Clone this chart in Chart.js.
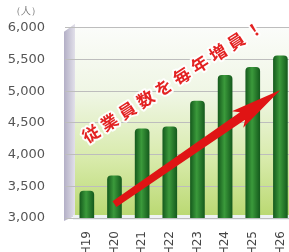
<!DOCTYPE html>
<html>
<head>
<meta charset="utf-8">
<style>
  html, body { margin: 0; padding: 0; background: #fff; overflow: hidden; }
  #wrap { width: 300px; height: 252px; }
</style>
<script src="https://cdn.jsdelivr.net/npm/chart.js@4/dist/chart.umd.min.js"></script>
</head>
<body>
<div id="wrap"><canvas id="staffChart" width="300" height="252"></canvas></div>
<script>
// 従業員数 (人)
const years = ['H19', 'H20', 'H21', 'H22', 'H23', 'H24', 'H25', 'H26'];
const staff = [3430, 3670, 4410, 4445, 4850, 5255, 5380, 5565];
const yMin = 3000;
const yMax = 6000;
const yStep = 500;
const unitLabel = '（人）';
const message = '従業員数を毎年増員！';

const BAR_PCT = 0.53;

// bar fill: horizontal gradient so each bar looks like a cylinder
function cylinderFill(ctx) {
    const chart = ctx.chart;
    const xs = chart.scales.x;
    if (!chart.chartArea || !xs) return '#2e8b2e';
    const cx = xs.getPixelForValue(ctx.dataIndex);
    const w = (xs.getPixelForValue(1) - xs.getPixelForValue(0)) * BAR_PCT;
    const g = chart.ctx.createLinearGradient(cx - w / 2, 0, cx + w / 2, 0);
    g.addColorStop(0, '#14591c');
    g.addColorStop(0.45, '#3b9a3b');
    g.addColorStop(1, '#14591c');
    return g;
}

const backdrop = {
    id: 'backdrop',
    beforeDraw(chart) {
        const { ctx, chartArea: a } = chart;
        ctx.save();
        const bg = ctx.createLinearGradient(0, a.top, 0, a.bottom);
        bg.addColorStop(0, '#fbfcfa');
        bg.addColorStop(0.35, '#eff6e4');
        bg.addColorStop(0.7, '#d7eaa9');
        bg.addColorStop(1, '#b9d870');
        ctx.fillStyle = bg;
        ctx.fillRect(a.left, a.top, a.right - a.left, a.bottom - a.top);

        // left side wall
        const wall = ctx.createLinearGradient(a.left - 9, 0, a.left + 2, 0);
        wall.addColorStop(0, '#b3afc6');
        wall.addColorStop(1, '#e2e0ea');
        ctx.fillStyle = wall;
        ctx.beginPath();
        ctx.moveTo(a.left - 9, a.top + 4);
        ctx.lineTo(a.left + 2, a.top - 4);
        ctx.lineTo(a.left + 2, a.bottom - 2);
        ctx.lineTo(a.left - 9, a.bottom + 3);
        ctx.closePath();
        ctx.fill();

        // floor strip
        ctx.fillStyle = '#eef2f4';
        ctx.fillRect(a.left, a.bottom - 3, a.right - a.left, 5);

        ctx.fillStyle = '#777';
        ctx.font = '10px "DejaVu Sans"';
        ctx.textAlign = 'center';
        ctx.textBaseline = 'middle';
        ctx.fillText(unitLabel, 26, 11);
        ctx.restore();
    }
};

const annotations = {
    id: 'annotations',
    afterDatasetsDraw(chart) {
        const { ctx, scales: { x, y } } = chart;
        const step = x.getPixelForValue(1) - x.getPixelForValue(0);
        const px = i => x.getPixelForValue(0) + i * step;

        // red arrow
        const x0 = px(1.0), y0 = y.getPixelForValue(3220);
        const x1 = px(7.0), y1 = y.getPixelForValue(5020);
        const ang = Math.atan2(y1 - y0, x1 - x0);
        const len = Math.hypot(x1 - x0, y1 - y0);
        ctx.save();
        ctx.translate(x0, y0);
        ctx.rotate(ang);
        ctx.fillStyle = '#e01414';
        ctx.beginPath();
        ctx.moveTo(0, -3.5);
        ctx.lineTo(len - 46, -4.5);
        ctx.lineTo(len - 52, -10);
        ctx.lineTo(len, 0);
        ctx.lineTo(len - 52, 10);
        ctx.lineTo(len - 46, 4.5);
        ctx.lineTo(0, 3.5);
        ctx.closePath();
        ctx.fill();
        ctx.restore();

        // slogan along the diagonal
        const chars = Array.from(message);
        const cx = px(3.1), cy = y.getPixelForValue(5150);
        const tAng = -32.5 * Math.PI / 180;
        const gap = 21.5;
        ctx.save();
        ctx.translate(cx, cy);
        ctx.rotate(tAng);
        ctx.font = 'bold 17px "Noto Sans CJK JP"';
        ctx.textAlign = 'center';
        ctx.textBaseline = 'middle';
        ctx.lineJoin = 'round';
        chars.forEach((ch, i) => {
            const off = (i - (chars.length - 1) / 2) * gap;
            ctx.strokeStyle = 'rgba(255,255,255,0.9)';
            ctx.lineWidth = 4;
            ctx.strokeText(ch, off, 0);
            ctx.fillStyle = '#e32222';
            ctx.fillText(ch, off, 0);
        });
        ctx.restore();
    }
};

new Chart(document.getElementById('staffChart').getContext('2d'), {
    type: 'bar',
    data: {
        labels: years,
        datasets: [{
            data: staff,
            backgroundColor: cylinderFill,
            borderWidth: 0,
            borderRadius: { topLeft: 4, topRight: 4 },
            borderSkipped: 'bottom',
            barPercentage: BAR_PCT,
            categoryPercentage: 1
        }]
    },
    plugins: [backdrop, annotations],
    options: {
        responsive: false,
        animation: false,
        layout: { padding: { top: 25, right: 3, left: 0, bottom: 0 } },
        plugins: {
            legend: { display: false },
            tooltip: { enabled: false }
        },
        scales: {
            x: {
                afterFit: s => { s.height = 34; },
                grid: { display: false },
                border: { display: false },
                ticks: {
                    minRotation: 90,
                    maxRotation: 90,
                    padding: 5,
                    color: '#444',
                    font: { family: 'DejaVu Sans', size: 12 }
                }
            },
            y: {
                min: yMin,
                max: yMax,
                afterFit: s => { s.width = 73; },
                border: { display: false },
                grid: { color: '#bdbdbd', lineWidth: 1, tickLength: 8 },
                ticks: {
                    stepSize: yStep,
                    padding: 20,
                    color: '#555',
                    font: { family: 'DejaVu Sans', size: 13 },
                    callback: v => v.toLocaleString('en-US')
                }
            }
        }
    }
});
</script>
</body>
</html>
